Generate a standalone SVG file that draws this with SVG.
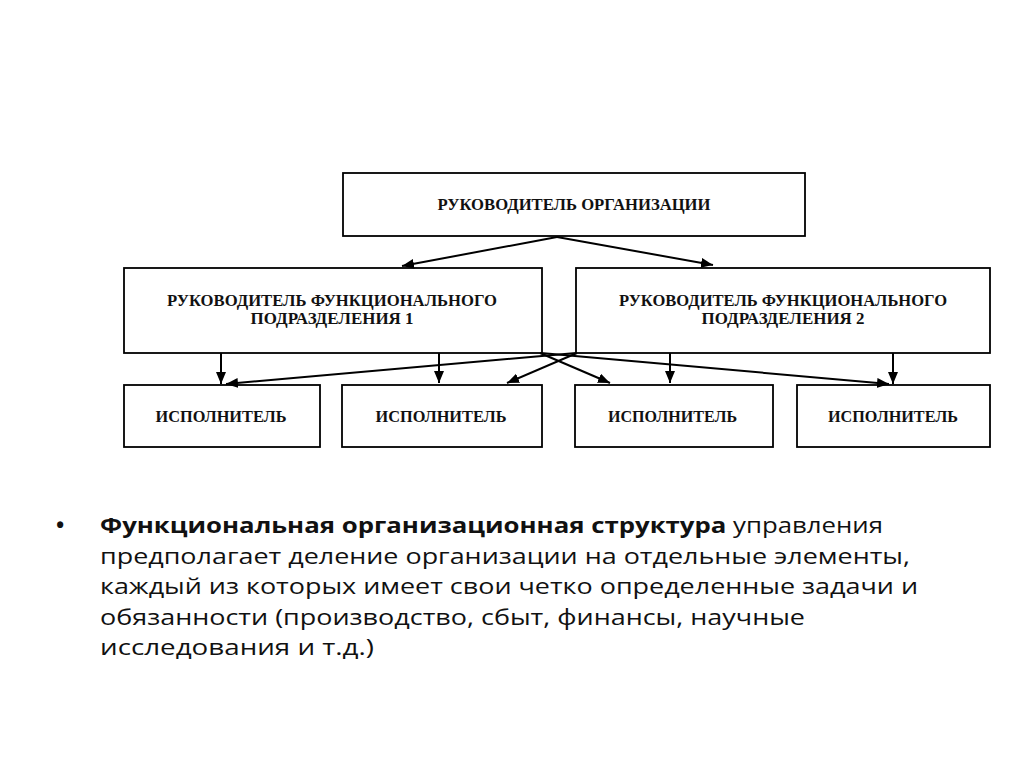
<svg xmlns="http://www.w3.org/2000/svg" width="1024" height="767" viewBox="0 0 1024 767">
<defs>
<marker id="ah" markerUnits="userSpaceOnUse" markerWidth="14" markerHeight="12" refX="12" refY="5" orient="auto">
<path d="M0,0 L12,5 L0,10 z" fill="#000"/>
</marker>
<style>
.box{fill:#fff;stroke:#000;stroke-width:1.8}
.lbl{font-family:"Liberation Serif","Times New Roman",serif;font-weight:bold;font-size:16px;fill:#111;text-anchor:middle}
.con{stroke:#000;stroke-width:2;fill:none;marker-end:url(#ah)}
.body{font-family:"Open Sans","Noto Sans",sans-serif;font-size:22px;fill:#111}
</style>
</defs>
<rect width="1024" height="767" fill="#fff"/>
<g id="head">
<rect class="box" x="343" y="173" width="462" height="63"/>
<text class="lbl" x="574" y="209.5" textLength="273" lengthAdjust="spacingAndGlyphs">РУКОВОДИТЕЛЬ ОРГАНИЗАЦИИ</text>
</g>
<g id="func1">
<rect class="box" x="124" y="268" width="418" height="85"/>
<text class="lbl" x="332" y="306" textLength="330" lengthAdjust="spacingAndGlyphs">РУКОВОДИТЕЛЬ ФУНКЦИОНАЛЬНОГО</text>
<text class="lbl" x="332" y="323.5" textLength="163" lengthAdjust="spacingAndGlyphs">ПОДРАЗДЕЛЕНИЯ 1</text>
</g>
<g id="func2">
<rect class="box" x="576" y="268" width="414" height="85"/>
<text class="lbl" x="783" y="306" textLength="328" lengthAdjust="spacingAndGlyphs">РУКОВОДИТЕЛЬ ФУНКЦИОНАЛЬНОГО</text>
<text class="lbl" x="783" y="323.5" textLength="163" lengthAdjust="spacingAndGlyphs">ПОДРАЗДЕЛЕНИЯ 2</text>
</g>
<g id="exec1">
<rect class="box" x="124" y="385" width="196" height="62"/>
<text class="lbl" x="221" y="422" textLength="131" lengthAdjust="spacingAndGlyphs">ИСПОЛНИТЕЛЬ</text>
</g>
<g id="exec2">
<rect class="box" x="342" y="385" width="200" height="62"/>
<text class="lbl" x="441" y="422" textLength="131" lengthAdjust="spacingAndGlyphs">ИСПОЛНИТЕЛЬ</text>
</g>
<g id="exec3">
<rect class="box" x="575" y="385" width="198" height="62"/>
<text class="lbl" x="672.5" y="422" textLength="129" lengthAdjust="spacingAndGlyphs">ИСПОЛНИТЕЛЬ</text>
</g>
<g id="exec4">
<rect class="box" x="797" y="385" width="193" height="62"/>
<text class="lbl" x="893" y="422" textLength="130" lengthAdjust="spacingAndGlyphs">ИСПОЛНИТЕЛЬ</text>
</g>
<g id="connectors">
<line class="con" x1="557" y1="237" x2="402" y2="266"/>
<line class="con" x1="557" y1="237" x2="713" y2="265"/>
<line class="con" x1="221" y1="353" x2="221" y2="384"/>
<line class="con" x1="439" y1="353" x2="439" y2="383"/>
<line class="con" x1="670" y1="353" x2="670" y2="383"/>
<line class="con" x1="893" y1="353" x2="893" y2="384"/>
<line class="con" x1="576" y1="353" x2="226" y2="384"/>
<line class="con" x1="541" y1="353" x2="889" y2="384"/>
<line class="con" x1="540" y1="353" x2="610" y2="383"/>
<line class="con" x1="577" y1="353" x2="507" y2="383"/>
</g>
<g id="bullet-text">
<text class="body" x="56" y="533" font-weight="bold" font-size="22">•</text>
<text class="body" x="100" y="533" textLength="783" lengthAdjust="spacingAndGlyphs"><tspan font-weight="bold">Функциональная организационная структура</tspan> управления</text>
<text class="body" x="100" y="563.5" textLength="810" lengthAdjust="spacingAndGlyphs">предполагает деление организации на отдельные элементы,</text>
<text class="body" x="100" y="594" textLength="818" lengthAdjust="spacingAndGlyphs">каждый из которых имеет свои четко определенные задачи и</text>
<text class="body" x="100" y="624.5" textLength="705" lengthAdjust="spacingAndGlyphs">обязанности (производство, сбыт, финансы, научные</text>
<text class="body" x="100" y="655" textLength="274" lengthAdjust="spacingAndGlyphs">исследования и т.д.)</text>
</g>
</svg>
